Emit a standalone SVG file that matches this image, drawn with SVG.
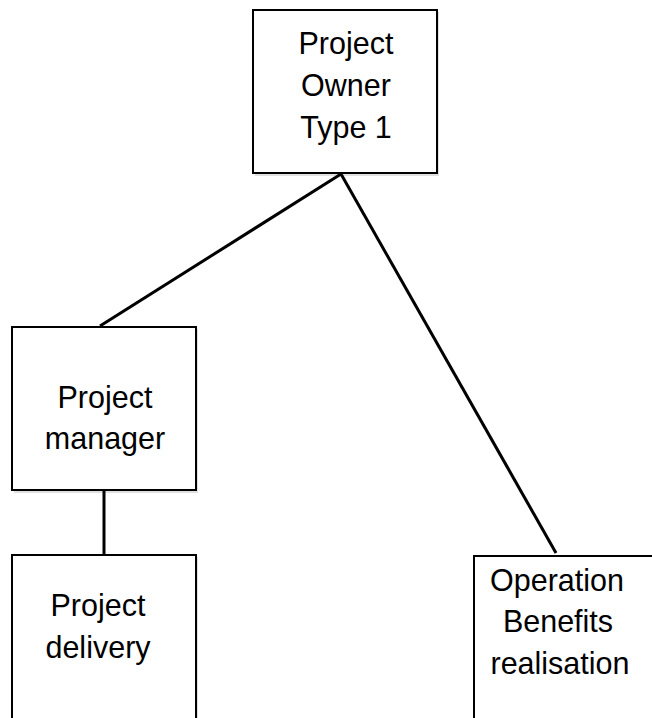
<svg xmlns="http://www.w3.org/2000/svg" width="652" height="718" viewBox="0 0 652 718">
<style>
.box{fill:#fff;stroke:#000;stroke-width:2}
.sh{fill:#000;opacity:0.12}
.t{font-family:"Liberation Sans",Arial,sans-serif;font-size:30.5px;fill:#000;text-anchor:middle}
.c{stroke:#000;stroke-width:3;fill:none}
</style>
<rect width="652" height="718" fill="#fff"/>
<g id="connectors">
<line class="c" x1="341" y1="174" x2="100" y2="326"/>
<line class="c" x1="341" y1="174" x2="556" y2="553"/>
<line class="c" x1="104" y1="490" x2="104" y2="554" stroke-width="4"/>
</g>
<g id="owner">
<rect class="sh" x="255" y="12" width="184" height="164"/>
<rect class="box" x="253" y="10" width="184" height="163"/>
<text class="t" x="346" y="54">Project</text>
<text class="t" x="346" y="96">Owner</text>
<text class="t" x="346" y="138">Type 1</text>
</g>
<g id="manager">
<rect class="sh" x="14" y="329" width="184" height="164"/>
<rect class="box" x="12" y="327" width="184" height="163"/>
<text class="t" x="105" y="408">Project</text>
<text class="t" x="105" y="449">manager</text>
</g>
<g id="delivery">
<rect class="sh" x="14" y="557" width="184" height="170"/>
<rect class="box" x="12" y="555" width="184" height="170"/>
<text class="t" x="98" y="616">Project</text>
<text class="t" x="98" y="658">delivery</text>
</g>
<g id="operation">
<rect class="sh" x="476" y="558" width="190" height="170"/>
<rect class="box" x="474" y="556" width="190" height="170"/>
<text class="t" x="557" y="591">Operation</text>
<text class="t" x="558" y="632">Benefits</text>
<text class="t" x="560" y="674">realisation</text>
</g>
</svg>
